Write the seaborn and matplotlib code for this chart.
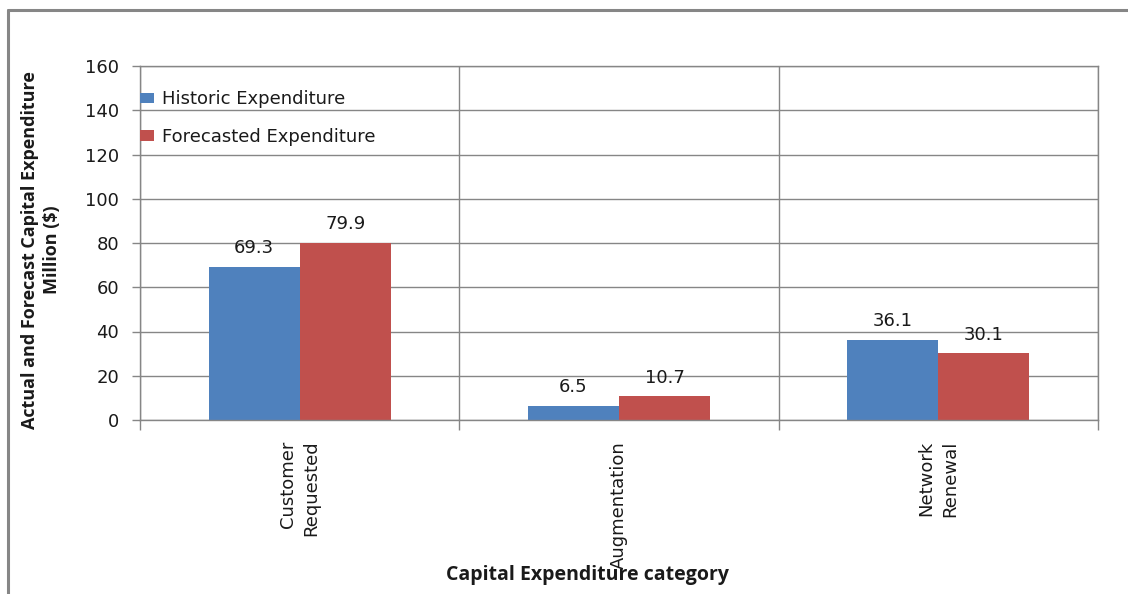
import matplotlib
matplotlib.use("Agg")
import matplotlib.pyplot as plt
from matplotlib.lines import Line2D
import seaborn as sns
import pandas as pd

# Capital expenditure by category, $ million
categories = ["Customer\nRequested", "Augmentation", "Network\nRenewal"]
series_names = ["Historic Expenditure", "Forecasted Expenditure"]
historic = [69.3, 6.5, 36.1]
forecast = [79.9, 10.7, 30.1]
y_ticks = [0, 20, 40, 60, 80, 100, 120, 140, 160]

colors = ["#4F81BD", "#C0504D"]
grid_color = "#868686"
text_color = "#1a1a1a"
fs = 13
body_font = ["DejaVu Sans"]
title_font = ["Open Sans", "DejaVu Sans"]

df = pd.DataFrame({
    "category": categories * 2,
    "series": [series_names[0]] * len(categories) + [series_names[1]] * len(categories),
    "value": historic + forecast,
})

sns.set_theme(style="white")
plt.rcParams["font.family"] = body_font

fig = plt.figure(figsize=(11.28, 5.94), dpi=100)
ax = fig.add_axes([140 / 1128, 1 - 420 / 594, 958 / 1128, 354 / 594])

sns.barplot(data=df, x="category", y="value", hue="series", order=categories,
            hue_order=series_names, palette=colors, saturation=1, width=0.57,
            gap=0, linewidth=0, ax=ax)

for cont in ax.containers:
    ax.bar_label(cont, fmt="%.1f", padding=7, fontsize=fs, color=text_color)

ax.set_xlim(-0.5, len(categories) - 0.5)
ax.set_ylim(y_ticks[0], y_ticks[-1])
ax.set_yticks(y_ticks)
ax.tick_params(axis="y", length=6, width=1, color=grid_color, labelsize=fs,
               labelcolor=text_color, pad=9, left=True)

# category boundaries carry the vertical grid and downward ticks
ax.set_xticks([i - 0.5 for i in range(len(categories) + 1)], minor=True)
ax.tick_params(axis="x", which="minor", length=7, width=1, color=grid_color, bottom=True)
ax.tick_params(axis="x", which="major", length=0, pad=15, labelsize=fs, labelcolor=text_color)
for lbl in ax.get_xticklabels():
    lbl.set_rotation(90)
    lbl.set_va("top")
    lbl.set_ha("center")
    lbl.set_multialignment("right")
    lbl.set_linespacing(1.4)

ax.grid(axis="y", which="major", color=grid_color, linewidth=1)
ax.grid(axis="x", which="minor", color=grid_color, linewidth=1)
ax.set_axisbelow(True)
for sp in ax.spines.values():
    sp.set_color(grid_color)
    sp.set_linewidth(1)

ax.set_xlabel("")
ax.set_ylabel("")
fig.text(41 / 1128, 1 - 250 / 594, "Actual and Forecast Capital Expenditure\nMillion ($)",
         rotation=90, ha="center", va="center", fontsize=13, fontweight="bold",
         color=text_color, multialignment="center", linespacing=1.3, family=title_font)
fig.text(587 / 1128, 1 - 575 / 594, "Capital Expenditure category",
         ha="center", va="center", fontsize=14, fontweight="bold", color=text_color,
         family=title_font)

leg = ax.legend(loc="upper left", bbox_to_anchor=(0.0, 0.932), frameon=False,
                fontsize=fs, handlelength=0.75, handleheight=0.5, handletextpad=0.45,
                labelspacing=1.1, borderpad=0, borderaxespad=0)
for t in leg.get_texts():
    t.set_color(text_color)

# outer chart frame (top and left edges)
fig.add_artist(Line2D([8 / 1128, 1.0], [1 - 10 / 594] * 2, color=grid_color, linewidth=2.2,
                      transform=fig.transFigure))
fig.add_artist(Line2D([8 / 1128] * 2, [0.0, 1 - 10 / 594], color=grid_color, linewidth=2.2,
                      transform=fig.transFigure))

fig.savefig("out.png", dpi=100)
